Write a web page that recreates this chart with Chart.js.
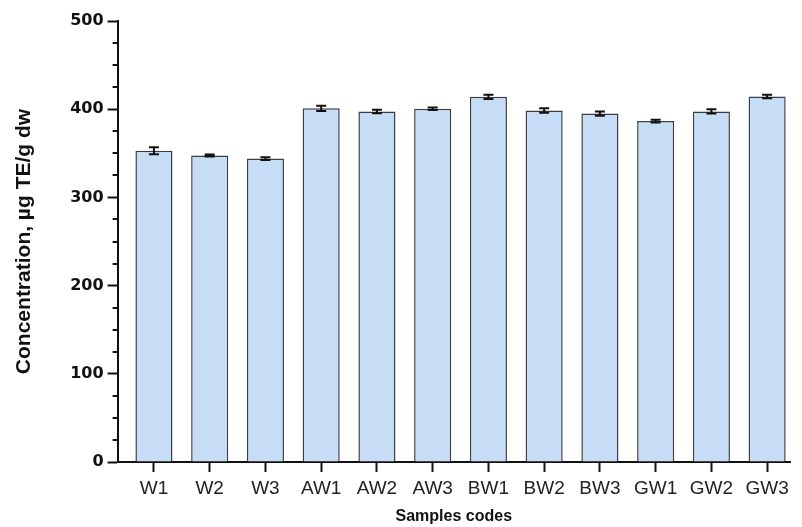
<!DOCTYPE html>
<html>
<head>
<meta charset="utf-8">
<script src="https://cdn.jsdelivr.net/npm/chart.js@4"></script>
<style>
  html, body { margin: 0; padding: 0; background: #fff; }
  #wrap { width: 802px; height: 527px; }
</style>
</head>
<body>
<div id="wrap"><canvas id="c" width="802" height="527"></canvas></div>
<script>
// Sample codes and their mean concentration with standard deviation
const sampleCodes = ['W1', 'W2', 'W3', 'AW1', 'AW2', 'AW3', 'BW1', 'BW2', 'BW3', 'GW1', 'GW2', 'GW3'];
const concentration = [353, 347.5, 344, 401, 397.5, 400.5, 414, 398.5, 395, 386.5, 397.5, 414.5];
const stdDev = [4, 1, 1.5, 3, 2, 1.5, 2.5, 2.5, 2.5, 1.5, 2.5, 2];
const yMajorTicks = [0, 100, 200, 300, 400, 500];

const FONT = "'Liberation Sans', Arial, Helvetica, sans-serif";
const WIDE_FONT = "'DejaVu Sans', 'Liberation Sans', sans-serif";

// Error bars with caps, positioned through the chart's own scales
const errorBars = {
  id: 'errorBars',
  afterDatasetsDraw(chart) {
    const { ctx } = chart;
    const yScale = chart.scales.y;
    const meta = chart.getDatasetMeta(0);
    ctx.save();
    ctx.strokeStyle = '#111';
    ctx.lineWidth = 2;
    meta.data.forEach((bar, i) => {
      const x = bar.x;
      const yTop = yScale.getPixelForValue(concentration[i] + stdDev[i]);
      const yBot = yScale.getPixelForValue(concentration[i] - stdDev[i]);
      const cap = 5;
      ctx.beginPath();
      ctx.moveTo(x, yTop); ctx.lineTo(x, yBot);
      ctx.moveTo(x - cap, yTop); ctx.lineTo(x + cap, yTop);
      ctx.moveTo(x - cap, yBot); ctx.lineTo(x + cap, yBot);
      ctx.stroke();
    });
    ctx.restore();
  }
};

// Short minor ticks between the labelled values on the y axis
const minorTicks = {
  id: 'minorTicks',
  afterDraw(chart) {
    const { ctx, chartArea } = chart;
    const yScale = chart.scales.y;
    ctx.save();
    ctx.strokeStyle = '#111';
    ctx.lineWidth = 2;
    yScale.ticks.forEach(t => {
      if (t.value % 100 !== 0) {
        const y = Math.round(yScale.getPixelForValue(t.value));
        ctx.beginPath();
        ctx.moveTo(chartArea.left - 5, y);
        ctx.lineTo(chartArea.left, y);
        ctx.stroke();
      }
    });
    ctx.restore();
  }
};

new Chart(document.getElementById('c'), {
  type: 'bar',
  data: {
    datasets: [{
      data: concentration.map((v, i) => ({ x: i, y: v })),
      backgroundColor: '#c7ddf6',
      borderColor: '#3a3d44',
      borderWidth: 1.5,
      borderSkipped: 'bottom',
      barPercentage: 1,
      categoryPercentage: 0.665
    }]
  },
  options: {
    responsive: false,
    animation: false,
    devicePixelRatio: 1,
    layout: { padding: { top: 21, right: 12, left: 4, bottom: 0 } },
    plugins: {
      legend: { display: false },
      tooltip: { enabled: false }
    },
    scales: {
      x: {
        type: 'linear',
        offset: false,
        min: -0.652,
        max: 11.41,
        afterBuildTicks: s => { s.ticks = sampleCodes.map((_, i) => ({ value: i })); },
        grid: { offset: false, drawOnChartArea: false, drawTicks: true, tickLength: 10, tickWidth: 2, tickColor: '#111' },
        border: { color: '#111', width: 2 },
        ticks: {
          autoSkip: false,
          maxRotation: 0,
          padding: 5,
          color: '#222',
          font: { family: FONT, size: 19 },
          callback: v => sampleCodes[v] ?? ''
        },
        title: {
          display: true,
          text: 'Samples codes',
          color: '#111',
          font: { family: FONT, size: 16, weight: 'bold' },
          padding: { top: 2, bottom: 1 }
        }
      },
      y: {
        min: 0,
        max: 500,
        afterBuildTicks: s => {
          const t = [];
          for (let v = 0; v <= 500; v += 25) t.push({ value: v });
          s.ticks = t;
        },
        grid: {
          drawOnChartArea: false,
          drawTicks: true,
          tickLength: 10,
          tickWidth: 2,
          tickColor: ctx => (ctx.tick && yMajorTicks.includes(ctx.tick.value)) ? '#111' : 'rgba(0,0,0,0)'
        },
        border: { color: '#111', width: 2 },
        ticks: {
          autoSkip: false,
          padding: 4,
          color: '#111',
          font: { family: WIDE_FONT, size: 16, weight: 'bold' },
          callback: v => yMajorTicks.includes(v) ? String(v) : ''
        },
        title: {
          display: true,
          text: 'Concentration, µg TE/g dw',
          color: '#111',
          font: { family: FONT, size: 21, weight: 'bold' },
          padding: { top: 8, bottom: 29 }
        }
      }
    }
  },
  plugins: [errorBars, minorTicks]
});
</script>
</body>
</html>
